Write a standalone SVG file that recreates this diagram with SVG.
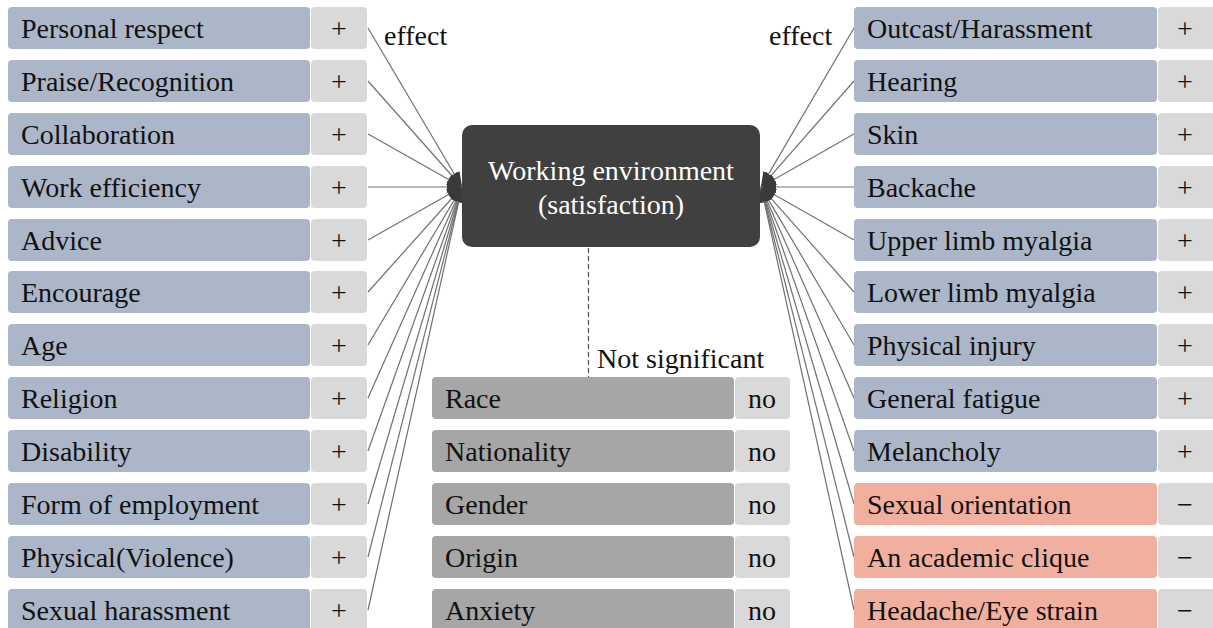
<svg xmlns="http://www.w3.org/2000/svg" width="1213" height="628" viewBox="0 0 1213 628">
<style>
.t{font-family:'Liberation Serif',Tinos,'Times New Roman',Times,'DejaVu Serif',serif;font-size:28px;fill:#111}
.c{text-anchor:middle}
.lb{fill:#abb7c8}
.sg{fill:#d9d9d9}
.md{fill:#a6a6a6}
.pk{fill:#f1b09f}
.cn line{stroke:#707070;stroke-width:1.2;marker-end:url(#ah)}
</style>
<defs>
<marker id="ah" markerUnits="userSpaceOnUse" markerWidth="18" markerHeight="14" refX="15" refY="6" orient="auto">
<path d="M0,0 L15,6 L0,12 Z" fill="#3a3a3a"/>
</marker>
</defs>
<rect width="1213" height="628" fill="#fff"/>
<g class="cn" id="connectors">
<line x1="368" y1="28" x2="462" y2="187"/>
<line x1="368" y1="81" x2="462" y2="187"/>
<line x1="368" y1="134" x2="462" y2="187"/>
<line x1="368" y1="187" x2="462" y2="187"/>
<line x1="368" y1="240" x2="462" y2="187"/>
<line x1="368" y1="292" x2="462" y2="187"/>
<line x1="368" y1="345" x2="462" y2="187"/>
<line x1="368" y1="398" x2="462" y2="187"/>
<line x1="368" y1="451" x2="462" y2="187"/>
<line x1="368" y1="504" x2="462" y2="187"/>
<line x1="368" y1="557" x2="462" y2="187"/>
<line x1="368" y1="610" x2="462" y2="187"/>
<line x1="854" y1="28" x2="761" y2="187"/>
<line x1="854" y1="81" x2="761" y2="187"/>
<line x1="854" y1="134" x2="761" y2="187"/>
<line x1="854" y1="187" x2="761" y2="187"/>
<line x1="854" y1="240" x2="761" y2="187"/>
<line x1="854" y1="292" x2="761" y2="187"/>
<line x1="854" y1="345" x2="761" y2="187"/>
<line x1="854" y1="398" x2="761" y2="187"/>
<line x1="854" y1="451" x2="761" y2="187"/>
<line x1="854" y1="504" x2="761" y2="187"/>
<line x1="854" y1="557" x2="761" y2="187"/>
<line x1="854" y1="610" x2="761" y2="187"/>
<line x1="588.5" y1="248" x2="588.5" y2="377" style="marker-end:none;stroke:#555;stroke-dasharray:5 3"/>
</g>
<text class="t" x="384" y="45">effect</text>
<text class="t" x="769" y="45">effect</text>
<text class="t" x="597" y="368">Not significant</text>
<g id="center">
<rect x="462" y="125" width="298" height="122" rx="10" fill="#404040"/>
<text class="t c" x="611" y="180" style="fill:#fff">Working environment</text>
<text class="t c" x="611" y="214" style="fill:#fff">(satisfaction)</text>
</g>
<g id="L1"><rect class="lb" x="8" y="7" width="302" height="42" rx="4"/><rect class="sg" x="311" y="7" width="56" height="42" rx="4"/><text class="t" x="21" y="38">Personal respect</text><text class="t c" x="339" y="38">+</text></g>
<g id="L2"><rect class="lb" x="8" y="60" width="302" height="42" rx="4"/><rect class="sg" x="311" y="60" width="56" height="42" rx="4"/><text class="t" x="21" y="91">Praise/Recognition</text><text class="t c" x="339" y="91">+</text></g>
<g id="L3"><rect class="lb" x="8" y="113" width="302" height="42" rx="4"/><rect class="sg" x="311" y="113" width="56" height="42" rx="4"/><text class="t" x="21" y="144">Collaboration</text><text class="t c" x="339" y="144">+</text></g>
<g id="L4"><rect class="lb" x="8" y="166" width="302" height="42" rx="4"/><rect class="sg" x="311" y="166" width="56" height="42" rx="4"/><text class="t" x="21" y="197">Work efficiency</text><text class="t c" x="339" y="197">+</text></g>
<g id="L5"><rect class="lb" x="8" y="219" width="302" height="42" rx="4"/><rect class="sg" x="311" y="219" width="56" height="42" rx="4"/><text class="t" x="21" y="250">Advice</text><text class="t c" x="339" y="250">+</text></g>
<g id="L6"><rect class="lb" x="8" y="271" width="302" height="42" rx="4"/><rect class="sg" x="311" y="271" width="56" height="42" rx="4"/><text class="t" x="21" y="302">Encourage</text><text class="t c" x="339" y="302">+</text></g>
<g id="L7"><rect class="lb" x="8" y="324" width="302" height="42" rx="4"/><rect class="sg" x="311" y="324" width="56" height="42" rx="4"/><text class="t" x="21" y="355">Age</text><text class="t c" x="339" y="355">+</text></g>
<g id="L8"><rect class="lb" x="8" y="377" width="302" height="42" rx="4"/><rect class="sg" x="311" y="377" width="56" height="42" rx="4"/><text class="t" x="21" y="408">Religion</text><text class="t c" x="339" y="408">+</text></g>
<g id="L9"><rect class="lb" x="8" y="430" width="302" height="42" rx="4"/><rect class="sg" x="311" y="430" width="56" height="42" rx="4"/><text class="t" x="21" y="461">Disability</text><text class="t c" x="339" y="461">+</text></g>
<g id="L10"><rect class="lb" x="8" y="483" width="302" height="42" rx="4"/><rect class="sg" x="311" y="483" width="56" height="42" rx="4"/><text class="t" x="21" y="514">Form of employment</text><text class="t c" x="339" y="514">+</text></g>
<g id="L11"><rect class="lb" x="8" y="536" width="302" height="42" rx="4"/><rect class="sg" x="311" y="536" width="56" height="42" rx="4"/><text class="t" x="21" y="567">Physical(Violence)</text><text class="t c" x="339" y="567">+</text></g>
<g id="L12"><rect class="lb" x="8" y="589" width="302" height="42" rx="4"/><rect class="sg" x="311" y="589" width="56" height="42" rx="4"/><text class="t" x="21" y="620">Sexual harassment</text><text class="t c" x="339" y="620">+</text></g>
<g id="R1"><rect class="lb" x="854" y="7" width="303" height="42" rx="4"/><rect class="sg" x="1158" y="7" width="58" height="42" rx="4"/><text class="t" x="867" y="38">Outcast/Harassment</text><text class="t c" x="1185" y="38">+</text></g>
<g id="R2"><rect class="lb" x="854" y="60" width="303" height="42" rx="4"/><rect class="sg" x="1158" y="60" width="58" height="42" rx="4"/><text class="t" x="867" y="91">Hearing</text><text class="t c" x="1185" y="91">+</text></g>
<g id="R3"><rect class="lb" x="854" y="113" width="303" height="42" rx="4"/><rect class="sg" x="1158" y="113" width="58" height="42" rx="4"/><text class="t" x="867" y="144">Skin</text><text class="t c" x="1185" y="144">+</text></g>
<g id="R4"><rect class="lb" x="854" y="166" width="303" height="42" rx="4"/><rect class="sg" x="1158" y="166" width="58" height="42" rx="4"/><text class="t" x="867" y="197">Backache</text><text class="t c" x="1185" y="197">+</text></g>
<g id="R5"><rect class="lb" x="854" y="219" width="303" height="42" rx="4"/><rect class="sg" x="1158" y="219" width="58" height="42" rx="4"/><text class="t" x="867" y="250">Upper limb myalgia</text><text class="t c" x="1185" y="250">+</text></g>
<g id="R6"><rect class="lb" x="854" y="271" width="303" height="42" rx="4"/><rect class="sg" x="1158" y="271" width="58" height="42" rx="4"/><text class="t" x="867" y="302">Lower limb myalgia</text><text class="t c" x="1185" y="302">+</text></g>
<g id="R7"><rect class="lb" x="854" y="324" width="303" height="42" rx="4"/><rect class="sg" x="1158" y="324" width="58" height="42" rx="4"/><text class="t" x="867" y="355">Physical injury</text><text class="t c" x="1185" y="355">+</text></g>
<g id="R8"><rect class="lb" x="854" y="377" width="303" height="42" rx="4"/><rect class="sg" x="1158" y="377" width="58" height="42" rx="4"/><text class="t" x="867" y="408">General fatigue</text><text class="t c" x="1185" y="408">+</text></g>
<g id="R9"><rect class="lb" x="854" y="430" width="303" height="42" rx="4"/><rect class="sg" x="1158" y="430" width="58" height="42" rx="4"/><text class="t" x="867" y="461">Melancholy</text><text class="t c" x="1185" y="461">+</text></g>
<g id="R10"><rect class="pk" x="854" y="483" width="303" height="42" rx="4"/><rect class="sg" x="1158" y="483" width="58" height="42" rx="4"/><text class="t" x="867" y="514">Sexual orientation</text><text class="t c" x="1185" y="514">−</text></g>
<g id="R11"><rect class="pk" x="854" y="536" width="303" height="42" rx="4"/><rect class="sg" x="1158" y="536" width="58" height="42" rx="4"/><text class="t" x="867" y="567">An academic clique</text><text class="t c" x="1185" y="567">−</text></g>
<g id="R12"><rect class="pk" x="854" y="589" width="303" height="42" rx="4"/><rect class="sg" x="1158" y="589" width="58" height="42" rx="4"/><text class="t" x="867" y="620">Headache/Eye strain</text><text class="t c" x="1185" y="620">−</text></g>
<g id="M1"><rect class="md" x="432" y="377" width="302" height="42" rx="4"/><rect class="sg" x="735" y="377" width="55" height="42" rx="4"/><text class="t" x="445" y="408">Race</text><text class="t c" x="762" y="408">no</text></g>
<g id="M2"><rect class="md" x="432" y="430" width="302" height="42" rx="4"/><rect class="sg" x="735" y="430" width="55" height="42" rx="4"/><text class="t" x="445" y="461">Nationality</text><text class="t c" x="762" y="461">no</text></g>
<g id="M3"><rect class="md" x="432" y="483" width="302" height="42" rx="4"/><rect class="sg" x="735" y="483" width="55" height="42" rx="4"/><text class="t" x="445" y="514">Gender</text><text class="t c" x="762" y="514">no</text></g>
<g id="M4"><rect class="md" x="432" y="536" width="302" height="42" rx="4"/><rect class="sg" x="735" y="536" width="55" height="42" rx="4"/><text class="t" x="445" y="567">Origin</text><text class="t c" x="762" y="567">no</text></g>
<g id="M5"><rect class="md" x="432" y="589" width="302" height="42" rx="4"/><rect class="sg" x="735" y="589" width="55" height="42" rx="4"/><text class="t" x="445" y="620">Anxiety</text><text class="t c" x="762" y="620">no</text></g>
</svg>
